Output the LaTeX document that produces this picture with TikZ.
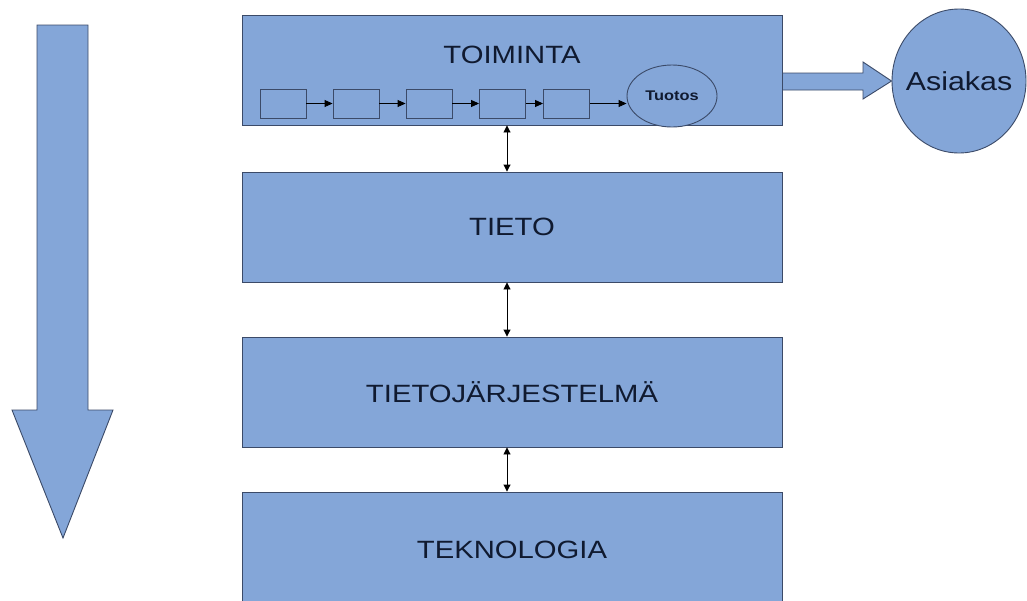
\documentclass[tikz,border=0pt]{standalone}
\usepackage{fontspec}
\setmainfont[FakeStretch=1.17]{Liberation Sans}
\usetikzlibrary{arrows.meta,shapes.geometric}
\definecolor{fillblue}{HTML}{84A6D8}
\definecolor{edgeblue}{HTML}{3B4A68}
\definecolor{textnavy}{HTML}{101A30}
\begin{document}
\begin{tikzpicture}[x=1pt,y=-1pt,
  bigbox/.style={draw=edgeblue,fill=fillblue,line width=0.9pt,minimum width=540pt,minimum height=110pt,inner sep=0pt},
  smallbox/.style={draw=edgeblue,fill=fillblue,line width=0.9pt,minimum width=46pt,minimum height=29pt,inner sep=0pt},
  oval/.style={ellipse,draw=edgeblue,fill=fillblue,line width=0.9pt,inner sep=0pt},
  bigtext/.style={text=textnavy,font=\fontsize{25}{25}\selectfont},
  link/.style={-{Triangle[length=8pt,width=7pt]},line width=0.9pt,black},
  dlink/.style={{Triangle[length=7pt,width=7pt]}-{Triangle[length=7pt,width=7pt]},line width=0.9pt,black},
  blockarrow/.style={draw=edgeblue,fill=fillblue,line width=0.9pt,line join=miter}]
\clip (0,0) rectangle (1027,600);
\useasboundingbox (0,0) rectangle (1027,600);
% left down arrow
\draw[blockarrow] (37,25) -- (88,25) -- (88,410) -- (113,410) -- (63,538) -- (12,410) -- (37,410) -- cycle;
% main boxes
\node[bigbox] (toim) at (512,70) {};
\node[bigbox] (tieto) at (512,227) {};
\node[bigbox] (tj) at (512,392) {};
\node[bigbox,minimum height=120pt] (tek) at (512,552) {};
\node[bigtext] (toimt) at (512,55) {TOIMINTA};
\node[bigtext] (tietot) at (tieto) {TIETO};
\node[bigtext] (tjt) at (tj) {TIETOJÄRJESTELMÄ};
\node[bigtext] (tekt) at (512,550) {TEKNOLOGIA};
% process chain
\node[smallbox] (s1) at (283,103.5) {};
\node[smallbox] (s2) at (356,103.5) {};
\node[smallbox] (s3) at (429,103.5) {};
\node[smallbox] (s4) at (502.5,103.5) {};
\node[smallbox] (s5) at (566.5,103.5) {};
\node[oval,minimum width=90pt,minimum height=62pt] (tuotos) at (672,96) {};
\node[text=textnavy,font=\bfseries\fontsize{14}{14}\selectfont] (tuotost) at (tuotos) {Tuotos};
\draw[link] (s1) -- (s2);
\draw[link] (s2) -- (s3);
\draw[link] (s3) -- (s4);
\draw[link] (s4) -- (s5);
\draw[link] (s5.east) -- (s5.east -| tuotos.west);
% customer
\node[oval,minimum width=134pt,minimum height=144pt] (asiakas) at (959,81) {};
\node[text=textnavy,font=\fontsize{26}{26}\selectfont] (asiakast) at (asiakas) {Asiakas};
\draw[blockarrow] (toim.east |- 0,73) -- (863,73) -- (863,62) -- (asiakas.west) -- (863,99) -- (863,90) -- (toim.east |- 0,90) -- cycle;
% vertical links
\draw[dlink] ([xshift=-5pt]toim.south) -- ([xshift=-5pt]tieto.north);
\draw[dlink] ([xshift=-5pt]tieto.south) -- ([xshift=-5pt]tj.north);
\draw[dlink] ([xshift=-5pt]tj.south) -- ([xshift=-5pt]tek.north);
\end{tikzpicture}
\end{document}
